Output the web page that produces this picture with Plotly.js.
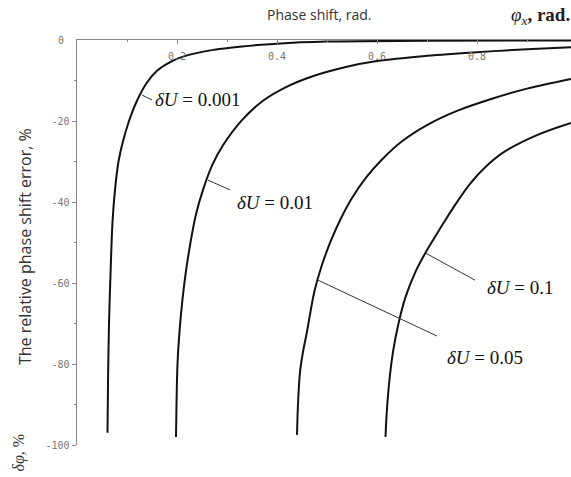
<!DOCTYPE html>
<html>
<head>
<meta charset="utf-8">
<script src="https://cdn.plot.ly/plotly-3.0.1.min.js"></script>
<style>html,body{margin:0;padding:0;background:#fff;}#chart{width:571px;height:477px;}</style>
</head>
<body>
<div id="chart"></div>
<script>
// Curve data: phase shift (rad) vs relative phase shift error (%)
const x001 = [0.061, 0.062, 0.064, 0.067, 0.071, 0.076, 0.083, 0.092, 0.104, 0.120, 0.140, 0.160, 0.190, 0.220, 0.270, 0.330, 0.400, 0.500, 0.700, 0.988];
const y001 = [-97, -85, -70, -58, -45, -37, -30, -25, -20, -15, -10.5, -7.6, -5.2, -3.8, -2.5, -1.6, -0.9, -0.4, -0.2, -0.1];

const x01 = [0.198, 0.199, 0.201, 0.205, 0.211, 0.218, 0.227, 0.238, 0.252, 0.270, 0.292, 0.330, 0.372, 0.420, 0.470, 0.540, 0.600, 0.700, 0.800, 0.900, 0.988];
const y01 = [-98, -90, -80, -72, -64, -57, -50, -43, -37, -31, -26, -19.8, -15, -11.5, -9, -6.6, -5.2, -3.9, -3.0, -2.3, -1.8];

const x05 = [0.440, 0.442, 0.446, 0.452, 0.460, 0.475, 0.490, 0.508, 0.528, 0.550, 0.578, 0.610, 0.650, 0.700, 0.760, 0.830, 0.900, 0.988];
const y05 = [-97.5, -90, -82, -77, -72, -62, -55.5, -49.5, -44, -39, -34, -29.5, -25, -21, -17.5, -14.5, -12, -9.6];

const x1 = [0.617, 0.619, 0.624, 0.632, 0.643, 0.657, 0.676, 0.697, 0.714, 0.733, 0.752, 0.786, 0.820, 0.852, 0.920, 0.988];
const y1 = [-98, -93, -85, -77, -70, -63.5, -57.5, -52.5, -49, -45.2, -41.5, -35.5, -31, -27.8, -23.5, -20.5];

// Curve labels
const labelTexts = ['<i>δU</i> = 0.001', '<i>δU</i> = 0.01', '<i>δU</i> = 0.1', '<i>δU</i> = 0.05'];
const labelX = [0.152, 0.316, 0.816, 0.736];
const labelY = [-14.8, -40, -61, -78.5];
// Leader lines: start on curve, end near label
const leaderX0 = [0.130, 0.262, 0.697, 0.482];
const leaderY0 = [-13.6, -34.6, -52.6, -59.3];
const leaderX1 = [0.150, 0.306, 0.796, 0.720];
const leaderY1 = [-14.8, -37, -59.3, -73.1];

const xTickVals = [0.2, 0.4, 0.6, 0.8];
const xTickText = ['0.2', '0.4', '0.6', '0.8'];
const yTickVals = [-20, -40, -60, -80, -100];
const yTickText = ['-20', '-40', '-60', '-80', '-100'];
const yZeroLabel = '0';

const lineStyle = {color: '#111', width: 2, shape: 'spline', smoothing: 1};
const traces = [
  {x: x001, y: y001},
  {x: x01, y: y01},
  {x: x05, y: y05},
  {x: x1, y: y1}
].map(t => Object.assign(t, {type: 'scatter', mode: 'lines', line: lineStyle, hoverinfo: 'skip'}));

const tickFont = {family: 'DejaVu Sans Mono, monospace', size: 10, color: '#777'};

const annotations = labelTexts.map((t, i) => ({
  text: t, x: labelX[i], y: labelY[i], xref: 'x', yref: 'y',
  xanchor: 'left', yanchor: 'middle', showarrow: false,
  font: {family: 'Liberation Serif, Times New Roman, serif', size: 19, color: '#111'}
}));
annotations.push(
  {text: yZeroLabel, xref: 'paper', yref: 'y', x: -0.0223, y: 0,
   xanchor: 'right', yanchor: 'middle', showarrow: false, font: tickFont},
  {text: 'Phase shift, rad.', xref: 'paper', yref: 'paper', x: 0.49, y: 1.062,
   xanchor: 'center', yanchor: 'middle', showarrow: false,
   font: {family: 'Open Sans, sans-serif', size: 14, color: '#333'}},
  {text: '<i>φ</i><sub><i>x</i></sub><b>, rad.</b>', xref: 'paper', yref: 'paper', x: 0.8745, y: 1.06,
   xanchor: 'left', yanchor: 'middle', showarrow: false,
   font: {family: 'Liberation Serif, Times New Roman, serif', size: 19, color: '#222'}},
  {text: 'The relative phase shift error, %', xref: 'paper', yref: 'paper', x: -0.105, y: 0.489,
   xanchor: 'center', yanchor: 'middle', textangle: -90, showarrow: false,
   font: {family: 'Open Sans, sans-serif', size: 16, color: '#333'}},
  {text: '<i>δφ</i>, %', xref: 'paper', yref: 'paper', x: -0.117, y: -0.018,
   xanchor: 'center', yanchor: 'middle', textangle: -90, showarrow: false,
   font: {family: 'Liberation Serif, Times New Roman, serif', size: 16, color: '#333'}}
);

const shapes = leaderX0.map((v, i) => ({
  type: 'line', xref: 'x', yref: 'y', x0: v, y0: leaderY0[i], x1: leaderX1[i], y1: leaderY1[i],
  line: {color: '#333', width: 1}
}));

const layout = {
  width: 571, height: 477,
  margin: {l: 77, r: 0, t: 40, b: 32, pad: 0},
  paper_bgcolor: '#fff', plot_bgcolor: '#fff',
  showlegend: false,
  xaxis: {
    range: [0, 0.988], side: 'top', showgrid: false, zeroline: false,
    showline: true, linecolor: '#888', linewidth: 1.5,
    tickvals: xTickVals, ticktext: xTickText,
    ticks: 'inside', ticklen: 4, tickcolor: '#888', tickwidth: 1,
    ticklabelposition: 'inside', ticklabelstandoff: 8,
    minor: {dtick: 0.1, ticks: 'inside', ticklen: 2, tickcolor: '#888'},
    tickfont: tickFont
  },
  yaxis: {
    range: [-100, 0], showgrid: false, zeroline: false,
    showline: true, linecolor: '#888', linewidth: 1.5,
    tickvals: yTickVals, ticktext: yTickText,
    ticks: 'outside', ticklen: 4, tickcolor: '#888', tickwidth: 1,
    minor: {dtick: 10, ticks: 'outside', ticklen: 2, tickcolor: '#888'},
    tickfont: tickFont
  },
  annotations: annotations,
  shapes: shapes
};

Plotly.newPlot('chart', traces, layout, {displayModeBar: false, staticPlot: true});
</script>
</body>
</html>
